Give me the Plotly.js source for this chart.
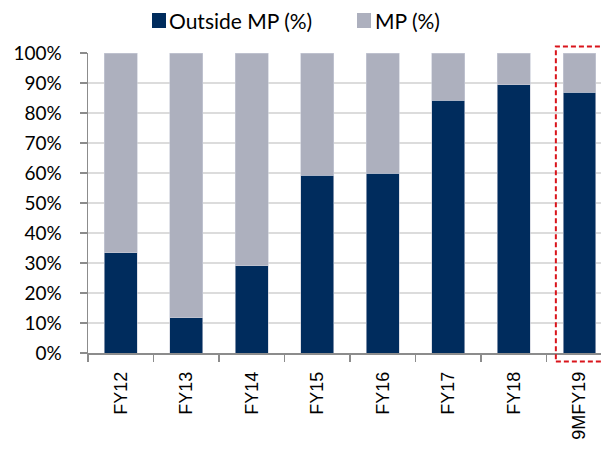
<!DOCTYPE html>
<html>
<head>
<meta charset="utf-8">
<script src="https://cdn.plot.ly/plotly-3.0.1.min.js"></script>
<style>
  html, body { margin: 0; padding: 0; background: #ffffff; }
  #chart { width: 601px; height: 450px; }
</style>
</head>
<body>
<div id="chart"></div>
<script>
// Periods on the x axis
const periods = ['FY12', 'FY13', 'FY14', 'FY15', 'FY16', 'FY17', 'FY18', '9MFY19'];
// Share of business outside MP (%)
const outsideMP = [33.5, 11.7, 29.1, 59.2, 59.9, 84.3, 89.5, 86.9];
// Share of business in MP (%)
const insideMP = [66.5, 88.3, 70.9, 40.8, 40.1, 15.7, 10.5, 13.1];
// Series names
const seriesNames = ['Outside MP (%)', 'MP (%)'];

const navy = '#002c5d';
const slate = '#adb0be';
const seriesColors = [navy, slate];

const traces = [
  {
    type: 'bar',
    name: seriesNames[0],
    x: periods,
    y: outsideMP,
    width: 0.5,
    marker: { color: navy, line: { color: '#c9cdd8', width: 0.6 } },
    hoverinfo: 'x+y+name'
  },
  {
    type: 'bar',
    name: seriesNames[1],
    x: periods,
    y: insideMP,
    width: 0.5,
    marker: { color: slate, line: { color: '#c9cdd8', width: 0.6 } },
    hoverinfo: 'x+y+name'
  }
];

// Legend drawn as swatches + labels above the plot (paper coordinates)
const legendY0 = 1.0833, legendY1 = 1.1333, legendMid = 1.1083;
const swatchX = [[0.1248, 0.152], [0.5244, 0.5517]];
const labelX = [0.154, 0.5556];

const shapes = [];
const annotations = [];
seriesNames.forEach((name, i) => {
  shapes.push({
    type: 'rect', xref: 'paper', yref: 'paper',
    x0: swatchX[i][0], x1: swatchX[i][1], y0: legendY0, y1: legendY1,
    line: { width: 0 }, fillcolor: seriesColors[i], layer: 'above'
  });
  annotations.push({
    xref: 'paper', yref: 'paper', x: labelX[i], y: legendMid,
    xanchor: 'left', yanchor: 'middle', showarrow: false,
    text: name,
    font: { family: 'Lato, sans-serif', size: 21, color: '#000000' }
  });
});

// dashed frame around the latest period
shapes.push({
  type: 'rect',
  xref: 'paper',
  yref: 'paper',
  x0: 0.912,
  x1: 1.03,
  y0: -0.028,
  y1: 1.022,
  line: { color: '#d9141b', width: 2, dash: '5px,3px' },
  fillcolor: 'rgba(0,0,0,0)',
  layer: 'above'
});

const layout = {
  width: 601,
  height: 450,
  barmode: 'stack',
  paper_bgcolor: '#ffffff',
  plot_bgcolor: '#ffffff',
  margin: { l: 88, r: 0, t: 53, b: 97, pad: 0 },
  showlegend: false,
  xaxis: {
    type: 'category',
    range: [-0.5, 7.33],
    tickangle: -90,
    tickson: 'boundaries',
    ticks: 'outside',
    ticklen: 7,
    tickcolor: '#8c8c8c',
    tickwidth: 1.5,
    ticklabelstandoff: 10,
    showline: true,
    linecolor: '#8c8c8c',
    linewidth: 1.5,
    showgrid: false,
    zeroline: false,
    tickfont: { family: '"Liberation Sans", Arial, sans-serif', size: 18, color: '#000000' },
    fixedrange: true
  },
  yaxis: {
    range: [0, 100],
    dtick: 10,
    tick0: 0,
    ticksuffix: '%',
    ticks: 'outside',
    ticklen: 7,
    tickcolor: '#8c8c8c',
    tickwidth: 1.5,
    ticklabelstandoff: 14,
    showline: true,
    linecolor: '#8c8c8c',
    linewidth: 1.5,
    showgrid: true,
    gridcolor: '#dcdcdc',
    gridwidth: 2,
    zeroline: false,
    tickfont: { family: 'Lato, sans-serif', size: 19, color: '#000000' },
    fixedrange: true
  },
  shapes: shapes,
  annotations: annotations
};

Plotly.newPlot('chart', traces, layout, { displayModeBar: false, staticPlot: true });
</script>
</body>
</html>
